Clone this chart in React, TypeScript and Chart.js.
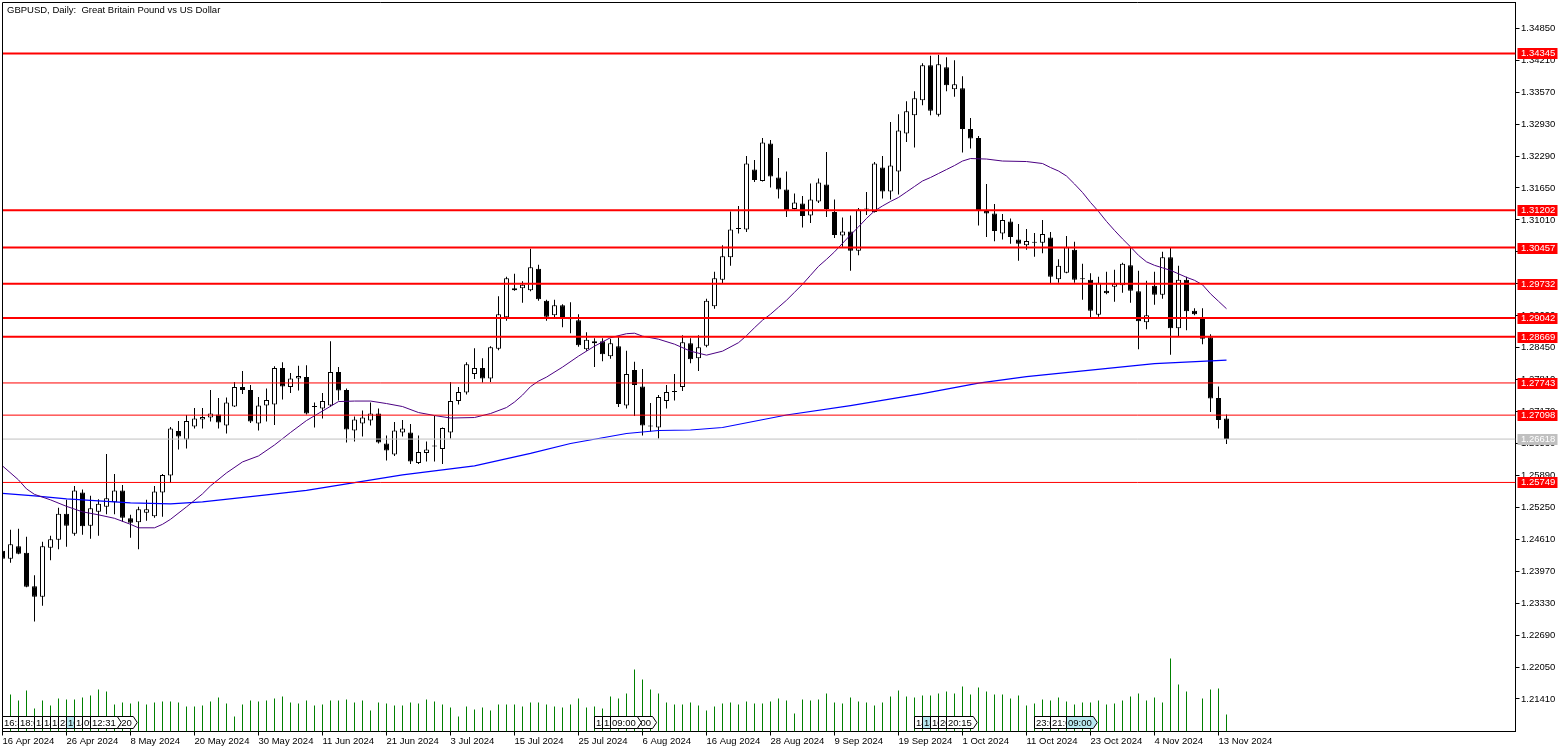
import React, { useEffect, useRef } from "react";
import { Chart, registerables } from "chart.js";
Chart.register(...registerables);

const FONT = '"Liberation Sans", Arial, sans-serif';
const TITLE = "GBPUSD, Daily:  Great Britain Pound vs US Dollar";

// ---- daily OHLC, 16 Apr 2024 .. 14 Nov 2024 (bar index order) ----
const barOpen = [
  1.2438, 1.2422, 1.2447, 1.2434, 1.2367, 1.2346, 1.2444, 1.2460, 1.2512, 1.2472,
  1.2555, 1.2488, 1.2516, 1.2526, 1.2535, 1.2559, 1.2503, 1.2495, 1.2514, 1.2507,
  1.2555, 1.2589, 1.2678, 1.2661, 1.2687, 1.2701, 1.2705, 1.2711, 1.2689, 1.2727,
  1.2766, 1.2760, 1.2693, 1.2729, 1.2731, 1.2804, 1.2766, 1.2783, 1.2786, 1.2726,
  1.2723, 1.2729, 1.2796, 1.2760, 1.2679, 1.2693, 1.2699, 1.2713, 1.2653, 1.2631,
  1.2675, 1.2675, 1.2614, 1.2634, 1.2647, 1.2642, 1.2675, 1.2738, 1.2755, 1.2792,
  1.2804, 1.2783, 1.2843, 1.2906, 1.2960, 1.2964, 1.2960, 1.3003, 1.2939, 1.2910,
  1.2930, 1.2902, 1.2900, 1.2842, 1.2854, 1.2858, 1.2828, 1.2848, 1.2729, 1.2800,
  1.2767, 1.2687, 1.2685, 1.2738, 1.2756, 1.2766, 1.2854, 1.2824, 1.2849, 1.2928,
  1.2981, 1.3026, 1.3083, 1.3082, 1.3202, 1.3179, 1.3254, 1.3186, 1.3162, 1.3123,
  1.3134, 1.3110, 1.3138, 1.3172, 1.3117, 1.3070, 1.3078, 1.3039, 1.3122, 1.3117,
  1.3206, 1.3158, 1.3198, 1.3274, 1.3311, 1.3341, 1.3411, 1.3312, 1.3407, 1.3363,
  1.3365, 1.3283, 1.3265, 1.3119, 1.3114, 1.3074, 1.3098, 1.3062, 1.3050, 1.3055,
  1.3055, 1.3066, 1.2982, 1.2995, 1.3041, 1.2982, 1.2981, 1.2911, 1.2959, 1.2967,
  1.2970, 1.3010, 1.2958, 1.2896, 1.2969, 1.2951, 1.3026, 1.2884, 1.2981, 1.2919,
  1.2906, 1.2866, 1.2744, 1.2703,
];
const barHigh = [
  1.2446, 1.2480, 1.2482, 1.2466, 1.2389, 1.2456, 1.2468, 1.2524, 1.2540, 1.2568,
  1.2561, 1.2548, 1.2541, 1.2632, 1.2592, 1.2570, 1.2510, 1.2526, 1.2540, 1.2568,
  1.2592, 1.2686, 1.2698, 1.2710, 1.2724, 1.2724, 1.2760, 1.2744, 1.2745, 1.2776,
  1.2798, 1.2770, 1.2746, 1.2763, 1.2808, 1.2816, 1.2794, 1.2809, 1.2810, 1.2735,
  1.2754, 1.2858, 1.2806, 1.2763, 1.2707, 1.2719, 1.2735, 1.2723, 1.2669, 1.2696,
  1.2700, 1.2692, 1.2669, 1.2657, 1.2708, 1.2685, 1.2776, 1.2766, 1.2816, 1.2844,
  1.2824, 1.2848, 1.2948, 1.2987, 1.2993, 1.2978, 1.3043, 1.3011, 1.2941, 1.2941,
  1.2932, 1.2936, 1.2912, 1.2876, 1.2864, 1.2864, 1.2863, 1.2866, 1.2839, 1.2817,
  1.2802, 1.2734, 1.2750, 1.2770, 1.2792, 1.2870, 1.2864, 1.2870, 1.2943, 1.2997,
  1.3050, 1.3118, 1.3129, 1.3229, 1.3221, 1.3265, 1.3261, 1.3225, 1.3198, 1.3154,
  1.3149, 1.3174, 1.3184, 1.3237, 1.3142, 1.3106, 1.3110, 1.3125, 1.3157, 1.3217,
  1.3229, 1.3297, 1.3313, 1.3339, 1.3359, 1.3415, 1.3430, 1.3432, 1.3427, 1.3421,
  1.3389, 1.3305, 1.3269, 1.3173, 1.3133, 1.3113, 1.3104, 1.3093, 1.3083, 1.3075,
  1.3101, 1.3077, 1.3022, 1.3069, 1.3057, 1.3013, 1.2994, 1.2987, 1.2997, 1.3001,
  1.3015, 1.3045, 1.2999, 1.2979, 1.2997, 1.3037, 1.3045, 1.3009, 1.2987, 1.2924,
  1.2924, 1.2872, 1.2767, 1.2711,
];
const barLow = [
  1.2415, 1.2414, 1.2431, 1.2365, 1.2296, 1.2328, 1.2419, 1.2441, 1.2446, 1.2468,
  1.2470, 1.2462, 1.2468, 1.2511, 1.2511, 1.2496, 1.2464, 1.2441, 1.2498, 1.2504,
  1.2506, 1.2574, 1.2641, 1.2643, 1.2683, 1.2683, 1.2697, 1.2683, 1.2673, 1.2726,
  1.2752, 1.2694, 1.2679, 1.2697, 1.2690, 1.2741, 1.2754, 1.2759, 1.2711, 1.2685,
  1.2703, 1.2727, 1.2739, 1.2655, 1.2657, 1.2667, 1.2689, 1.2653, 1.2619, 1.2628,
  1.2667, 1.2612, 1.2612, 1.2617, 1.2617, 1.2612, 1.2663, 1.2731, 1.2751, 1.2782,
  1.2775, 1.2776, 1.2840, 1.2899, 1.2959, 1.2935, 1.2958, 1.2939, 1.2899, 1.2904,
  1.2886, 1.2874, 1.2847, 1.2839, 1.2806, 1.2818, 1.2823, 1.2726, 1.2723, 1.2708,
  1.2669, 1.2677, 1.2663, 1.2723, 1.2739, 1.2758, 1.2814, 1.2798, 1.2846, 1.2923,
  1.2974, 1.3009, 1.3074, 1.3077, 1.3177, 1.3178, 1.3166, 1.3144, 1.3107, 1.3122,
  1.3086, 1.3095, 1.3135, 1.3107, 1.3065, 1.3047, 1.2999, 1.3030, 1.3111, 1.3116,
  1.3144, 1.3142, 1.3152, 1.3257, 1.3246, 1.3331, 1.3311, 1.3308, 1.3359, 1.3348,
  1.3236, 1.3244, 1.3090, 1.3067, 1.3058, 1.3062, 1.3053, 1.3019, 1.3041, 1.3027,
  1.3034, 1.2974, 1.2975, 1.2994, 1.2975, 1.2941, 1.2904, 1.2907, 1.2952, 1.2937,
  1.2955, 1.2935, 1.2842, 1.2882, 1.2931, 1.2943, 1.2831, 1.2868, 1.2880, 1.2910,
  1.2852, 1.2716, 1.2683, 1.2652,
];
const barClose = [
  1.2422, 1.2451, 1.2432, 1.2366, 1.2346, 1.2447, 1.2461, 1.2512, 1.2488, 1.2559,
  1.2487, 1.2523, 1.2532, 1.2543, 1.2559, 1.2504, 1.2494, 1.2521, 1.2521, 1.2557,
  1.2590, 1.2683, 1.2667, 1.2698, 1.2703, 1.2706, 1.2713, 1.2695, 1.2735, 1.2766,
  1.2760, 1.2697, 1.2729, 1.2740, 1.2804, 1.2767, 1.2783, 1.2788, 1.2713, 1.2728,
  1.2738, 1.2796, 1.2759, 1.2681, 1.2701, 1.2705, 1.2713, 1.2655, 1.2639, 1.2679,
  1.2683, 1.2617, 1.2636, 1.2641, 1.2648, 1.2684, 1.2738, 1.2756, 1.2812, 1.2804,
  1.2783, 1.2846, 1.2912, 1.2984, 1.2964, 1.2971, 1.3006, 1.2942, 1.2907, 1.2930,
  1.2904, 1.2904, 1.2850, 1.2861, 1.2858, 1.2832, 1.2854, 1.2732, 1.2792, 1.2770,
  1.2689, 1.2688, 1.2746, 1.2756, 1.2757, 1.2856, 1.2822, 1.2846, 1.2939, 1.2984,
  1.3028, 1.3082, 1.3084, 1.3214, 1.3181, 1.3256, 1.3188, 1.3162, 1.3121, 1.3136,
  1.3109, 1.3142, 1.3176, 1.3123, 1.3071, 1.3078, 1.3039, 1.3122, 1.3123, 1.3214,
  1.3158, 1.3210, 1.3280, 1.3319, 1.3345, 1.3411, 1.3320, 1.3413, 1.3371, 1.3373,
  1.3283, 1.3264, 1.3121, 1.3114, 1.3079, 1.3101, 1.3067, 1.3053, 1.3059, 1.3056,
  1.3073, 1.2987, 1.3009, 1.3046, 1.2981, 1.2983, 1.2919, 1.2975, 1.2954, 1.2973,
  1.3013, 1.2959, 1.2898, 1.2910, 1.2951, 1.3026, 1.2884, 1.2981, 1.2918, 1.2912,
  1.2863, 1.2743, 1.2700, 1.26618,
];
// tick volume (thousands of ticks)
const tickVolume = [
  30, 37, 31, 41, 23, 31, 26, 33, 32, 32, 34, 36, 42, 40, 27, 29, 28, 30, 27, 29,
  30, 30, 29, 25, 25, 26, 30, 34, 28, 15, 27, 31, 30, 31, 33, 35, 29, 28, 31, 26,
  27, 31, 31, 32, 29, 31, 21, 29, 28, 26, 26, 29, 28, 32, 30, 27, 24, 15, 25, 22,
  24, 21, 27, 27, 27, 25, 29, 29, 27, 25, 24, 27, 33, 24, 25, 23, 35, 33, 38, 62,
  52, 42, 38, 29, 27, 27, 29, 26, 21, 25, 28, 29, 27, 30, 28, 28, 30, 33, 31, 18,
  32, 31, 32, 38, 29, 28, 34, 30, 29, 26, 29, 35, 41, 35, 34, 36, 36, 38, 40, 38,
  45, 37, 44, 40, 37, 37, 33, 36, 26, 28, 32, 31, 34, 30, 27, 29, 29, 31, 27, 28,
  31, 35, 38, 31, 34, 29, 73, 47, 40, 0.3, 33, 42, 43, 17,
];

// moving averages (bar index -> value)
const maFastIdx = [
  0, 2, 3, 4, 6, 8, 10, 12, 14, 16, 17, 19, 20, 21, 23, 25, 26, 28, 30, 32, 34, 36, 38, 40,
  42, 44, 46, 48, 50, 52, 54, 56, 59, 61, 63, 64, 65, 66, 67, 68, 70, 72, 74, 76, 78, 79,
  80, 82, 84, 86, 88, 90, 92, 93, 94, 95, 96, 97, 98, 99, 100, 101, 102, 103, 104, 105,
  106, 107, 108, 109, 110, 111, 112, 113, 114, 115, 116, 117, 118, 119, 120, 121, 123,
  125, 128, 130, 131, 132, 133, 134, 135, 136, 137, 138, 139, 140, 141, 142, 143, 144,
  145, 146, 147, 148, 149, 150, 151, 152, 153,
];
const maFastVal = [
  1.2608, 1.2580, 1.2562, 1.2551, 1.2540, 1.2527, 1.2516, 1.2510, 1.2503, 1.2491, 1.2484,
  1.2484, 1.2491, 1.2501, 1.2526, 1.2552, 1.2568, 1.2594, 1.2616, 1.2628, 1.2650, 1.2675,
  1.2699, 1.2718, 1.2737, 1.2738, 1.2738, 1.2733, 1.2727, 1.2715, 1.2709, 1.2704, 1.2705,
  1.2713, 1.2725, 1.2736, 1.2750, 1.2767, 1.2778, 1.2786, 1.2806, 1.2828, 1.2848, 1.2865,
  1.2873, 1.2874, 1.2868, 1.2862, 1.2852, 1.2838, 1.2830, 1.2838, 1.2855, 1.2869, 1.2885,
  1.2900, 1.2912, 1.2926, 1.2940, 1.2956, 1.2972, 1.2990, 1.3008, 1.3022, 1.3037, 1.3054,
  1.3071, 1.3087, 1.3104, 1.3119, 1.3129, 1.3138, 1.3146, 1.3157, 1.3168, 1.3179, 1.3186,
  1.3194, 1.3202, 1.3210, 1.3219, 1.3224, 1.3223, 1.3219, 1.3218, 1.3214, 1.3206, 1.3199,
  1.3189, 1.3173, 1.3156, 1.3136, 1.3118, 1.3098, 1.3080, 1.3063, 1.3047, 1.3030, 1.3017,
  1.3010, 1.3005, 1.3000, 1.2993, 1.2986, 1.2980, 1.2971, 1.2953, 1.2938, 1.2923,
];
const maSlowIdx = [0, 4, 8, 12, 16, 21, 25, 29, 33, 38, 50, 59, 66, 71, 78, 82, 86, 90, 98, 106, 115, 122, 128, 136, 144, 153];
const maSlowVal = [
  1.2553, 1.2548, 1.2542, 1.2538, 1.2534, 1.2532, 1.2536, 1.2543, 1.2550, 1.2559, 1.2590,
  1.2608, 1.2633, 1.2653, 1.2673, 1.2679, 1.2680, 1.2685, 1.2710, 1.2729, 1.2753, 1.2774,
  1.2787, 1.2800, 1.2813, 1.2820,
];

// horizontal price levels
const levelValues = [1.34345, 1.31202, 1.30457, 1.29732, 1.29042, 1.28669, 1.27743, 1.27098, 1.25749];
const levelWidths = [2, 2, 2, 2, 2, 2, 1, 1, 1];
const bidPrice = 1.26618;

// axis ticks
const priceTicks = [
  1.2141, 1.2205, 1.2269, 1.2333, 1.2397, 1.2461, 1.2525, 1.2589, 1.2653, 1.2717, 1.2781,
  1.2845, 1.2909, 1.2973, 1.3037, 1.3101, 1.3165, 1.3229, 1.3293, 1.3357, 1.3421, 1.3485,
];
const dateTickIdx = [0, 8, 16, 24, 32, 40, 48, 56, 64, 72, 80, 88, 96, 104, 112, 120, 128, 136, 144, 152];
const dateTickLabels = [
  "16 Apr 2024", "26 Apr 2024", "8 May 2024", "20 May 2024", "30 May 2024", "11 Jun 2024",
  "21 Jun 2024", "3 Jul 2024", "15 Jul 2024", "25 Jul 2024", "6 Aug 2024", "16 Aug 2024",
  "28 Aug 2024", "9 Sep 2024", "19 Sep 2024", "1 Oct 2024", "11 Oct 2024", "23 Oct 2024",
  "4 Nov 2024", "13 Nov 2024",
];

// event markers at the bottom (listed in drawing order)
const eventBar = [0, 2, 4, 5, 6, 7, 8, 9, 10, 13, 11, 74, 75, 78, 76, 114, 115, 116, 117, 118, 129, 131, 133];
const eventText = [
  "16:30", "18:00", "13:30", "14:00", "15:00", "23:30", "10:00", "14:30", "09:30", "15:20", "12:31",
  "13:30", "12:30", "11:00", "09:00",
  "14:00", "13:30", "10:00", "20:00", "20:15",
  "23:00", "21:00", "09:00",
];
const eventHighlight = [0, 0, 0, 0, 0, 0, 1, 0, 0, 0, 0, 0, 0, 0, 0, 0, 1, 0, 0, 0, 0, 0, 1];
const eventArrow = [0, 0, 0, 0, 0, 0, 0, 0, 0, 1, 1, 0, 0, 1, 1, 0, 0, 0, 0, 1, 0, 0, 1];

const X_MIN = 0;
const X_MAX = 189.125;
const Y_MIN = 1.20758;
const Y_MAX = 1.35367;

const decorPlugin = {
  id: "mt5decor",
  afterDraw(chart: any) {
    const { ctx, chartArea: ca, scales } = chart;
    const ys = scales.y;
    const xs = scales.x;
    ctx.save();
    // frame (left + top)
    ctx.strokeStyle = "#000";
    ctx.lineWidth = 1;
    ctx.beginPath();
    ctx.moveTo(ca.left, ca.bottom);
    ctx.lineTo(ca.left, ca.top);
    ctx.lineTo(ca.right, ca.top);
    ctx.stroke();

    // event markers
    ctx.font = `9.5px ${FONT}`;
    ctx.textBaseline = "alphabetic";
    ctx.textAlign = "left";
    const top = ca.bottom - 15;
    const h = 12;
    for (let k = 0; k < eventBar.length; k++) {
      const L = xs.getPixelForValue(eventBar[k]);
      const w = ctx.measureText(eventText[k]).width + 3;
      const R = L + w;
      ctx.beginPath();
      ctx.moveTo(L, top);
      ctx.lineTo(R, top);
      if (eventArrow[k]) ctx.lineTo(R + 4, top + h / 2);
      ctx.lineTo(R, top + h);
      ctx.lineTo(L, top + h);
      ctx.closePath();
      ctx.fillStyle = eventHighlight[k] ? "#b8e8f0" : "#ffffff";
      ctx.fill();
      ctx.strokeStyle = "#000";
      ctx.stroke();
      ctx.fillStyle = "#000";
      ctx.fillText(eventText[k], L + 1.5, top + h - 2.5);
    }

    // level price labels on the axis
    const drawTag = (v: number, bg: string) => {
      const y = Math.round(ys.getPixelForValue(v));
      ctx.fillStyle = bg;
      ctx.fillRect(ca.right + 2, y - 5, 40, 11);
      ctx.fillStyle = "#ffffff";
      ctx.font = `9.5px ${FONT}`;
      ctx.textBaseline = "middle";
      ctx.textAlign = "left";
      ctx.fillText(v.toFixed(5), ca.right + 5.5, y + 0.5);
    };
    levelValues.forEach((v) => drawTag(v, "#ff0000"));
    drawTag(bidPrice, "#c0c0c0");

    // title
    ctx.fillStyle = "#000";
    ctx.font = `9.5px ${FONT}`;
    ctx.textBaseline = "alphabetic";
    ctx.textAlign = "left";
    ctx.fillText(TITLE, 7, 13);
    ctx.restore();
  },
};

export default function App() {
  const ref = useRef<HTMLCanvasElement>(null);
  useEffect(() => {
    const canvas = ref.current;
    if (!canvas) return;
    const idx = barOpen.map((_, i) => i);

    const levelSets: any[] = levelValues.map((lv, k) => ({
      type: "line",
      data: [{ x: X_MIN, y: lv }, { x: X_MAX, y: lv }],
      borderColor: "#ff0000",
      borderWidth: levelWidths[k],
      pointRadius: 0,
      order: -3,
      yAxisID: "y",
    }));
    levelSets.push({
      type: "line",
      data: [{ x: X_MIN, y: bidPrice }, { x: X_MAX, y: bidPrice }],
      borderColor: "#c0c0c0",
      borderWidth: 1,
      pointRadius: 0,
      order: -3,
      yAxisID: "y",
    });

    const chart = new Chart(canvas, {
      type: "bar",
      data: {
        datasets: [
          ...levelSets,
          {
            type: "line",
            data: maFastIdx.map((x, k) => ({ x, y: maFastVal[k] })),
            borderColor: "#4b0082",
            borderWidth: 1,
            pointRadius: 0,
            tension: 0,
            order: -2,
            yAxisID: "y",
          },
          {
            type: "line",
            data: maSlowIdx.map((x, k) => ({ x, y: maSlowVal[k] })),
            borderColor: "#0000ff",
            borderWidth: 1.2,
            pointRadius: 0,
            tension: 0,
            order: -2,
            yAxisID: "y",
          },
          {
            type: "bar",
            data: idx.map((i) => ({ x: i, y: [barOpen[i], barClose[i]] })),
            backgroundColor: idx.map((i) => (barClose[i] >= barOpen[i] ? "#ffffff" : "#000000")),
            borderColor: "#000000",
            borderWidth: 1,
            borderSkipped: false,
            barThickness: 5,
            minBarLength: 1,
            grouped: false,
            inflateAmount: 0,
            order: 0,
            yAxisID: "y",
          },
          {
            type: "bar",
            data: idx.map((i) => ({ x: i, y: [barLow[i], barHigh[i]] })),
            backgroundColor: "#000000",
            borderWidth: 0,
            barThickness: 1,
            grouped: false,
            inflateAmount: 0,
            order: 1,
            yAxisID: "y",
          },
          {
            type: "bar",
            data: idx.map((i) => ({ x: i, y: tickVolume[i] })),
            backgroundColor: "#008000",
            borderWidth: 0,
            barThickness: 1,
            grouped: false,
            inflateAmount: 0,
            order: 2,
            yAxisID: "yv",
          },
        ] as any,
      },
      options: {
        responsive: false,
        animation: false,
        devicePixelRatio: 1,
        events: [],
        layout: { padding: { left: 2.5, top: 2.5, right: 0, bottom: 0 } },
        plugins: { legend: { display: false }, tooltip: { enabled: false }, title: { display: false } },
        scales: {
          x: {
            type: "linear",
            position: "bottom",
            offset: false,
            min: X_MIN,
            max: X_MAX,
            bounds: "data",
            afterBuildTicks: (s: any) => {
              s.ticks = dateTickIdx.map((v) => ({ value: v }));
            },
            afterFit: (s: any) => {
              s.height = 21.5;
              s.paddingLeft = 0;
              s.paddingRight = 0;
            },
            ticks: {
              autoSkip: false,
              maxRotation: 0,
              minRotation: 0,
              align: "start",
              padding: 0,
              color: "#000",
              font: { family: FONT, size: 9.5 },
              callback: (v: any) => {
                const k = dateTickIdx.indexOf(Number(v));
                return k >= 0 ? dateTickLabels[k] : "";
              },
            },
            grid: { offset: false, drawOnChartArea: false, drawTicks: true, tickLength: 4, color: "#000" },
            border: { display: true, color: "#000", width: 1 },
          },
          y: {
            type: "linear",
            position: "right",
            offset: false,
            min: Y_MIN,
            max: Y_MAX,
            bounds: "data",
            afterBuildTicks: (s: any) => {
              s.ticks = priceTicks.map((v) => ({ value: v }));
            },
            afterFit: (s: any) => {
              s.width = 52.5;
              s.paddingTop = 0;
              s.paddingBottom = 0;
            },
            ticks: {
              autoSkip: false,
              padding: 1.5,
              color: "#000",
              font: { family: FONT, size: 9.5 },
              callback: (v: any) => Number(v).toFixed(5),
            },
            grid: { drawOnChartArea: false, drawTicks: true, tickLength: 4, color: "#000" },
            border: { display: true, color: "#000", width: 1 },
          },
          yv: {
            type: "linear",
            display: false,
            min: 0,
            max: 729,
          },
        },
      } as any,
      plugins: [decorPlugin],
    });
    return () => chart.destroy();
  }, []);

  return (
    <div style={{ position: "fixed", left: 0, top: 0, width: 1568, height: 753, background: "#fff" }}>
      <canvas ref={ref} width={1568} height={753} style={{ display: "block", width: 1568, height: 753 }} />
    </div>
  );
}
